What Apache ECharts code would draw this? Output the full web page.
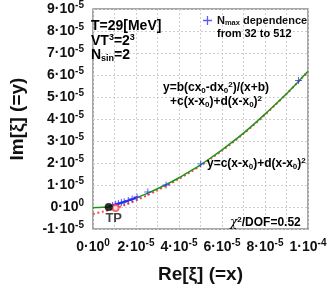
<!DOCTYPE html>
<html><head><meta charset="utf-8">
<script src="https://cdn.jsdelivr.net/npm/echarts@6/dist/echarts.min.js"></script>
<style>html,body{margin:0;padding:0;background:#fff}#c{width:336px;height:289px}</style>
</head><body><div id="c"></div>
<script>
// values in units of 1e-5
const UNIT = 1e-5;
const fitX = [0, 0.3, 0.73, 1, 1.5, 2, 2.5, 3, 3.5, 4, 4.5, 5, 5.5, 6, 6.5, 7, 7.5, 8, 8.5, 9, 9.5, 10];
const fitY = [-0.03, -0.02, 0, 0.075, 0.23, 0.41, 0.61, 0.83, 1.07, 1.33, 1.62, 1.92, 2.25, 2.60, 2.97, 3.36, 3.78, 4.22, 4.68, 5.15, 5.65, 6.17];
const quadX = [0, 0.5, 1, 1.5, 2, 2.5, 3, 3.5, 4, 4.5, 5, 5.5, 6, 6.5, 7, 7.5, 8, 8.5, 9, 9.5, 10];
const quadY = [-0.32, -0.2, -0.07, 0.1, 0.3, 0.52, 0.76, 1.01, 1.28, 1.57, 1.88, 2.21, 2.56, 2.93, 3.33, 3.75, 4.19, 4.66, 5.14, 5.64, 6.16];
const nmaxX = [0.91, 1.05, 1.18, 1.32, 1.45, 1.64, 1.82, 2.05, 2.55, 3.40, 5.01, 9.56];
const nmaxY = [0.07, 0.12, 0.16, 0.20, 0.24, 0.30, 0.36, 0.45, 0.68, 1.00, 1.96, 5.75];
const nmaxLineCount = 8;
const circX = [1.05];
const circY = [-0.05];
const tpX = [0.73];
const tpY = [0];
const yTicks = [-1, 0, 1, 2, 3, 4, 5, 6, 7, 8, 9];
const xTicks = [0, 2, 4, 6, 8, 10];

const pts = (xs, ys) => xs.map((x, i) => [x * UNIT, ys[i] * UNIT]);
const FONT = 'Liberation Sans';
const CROSS = 'path://M4.3,0H5.7V10H4.3ZM0,4.3H10V5.7H0Z';
const tickRich = {
  b: {fontFamily: FONT, fontWeight: 'bold', fontSize: 14, color: '#111', lineHeight: 18},
  s: {fontFamily: FONT, fontWeight: 'bold', fontSize: 10, color: '#111', lineHeight: 10, verticalAlign: 'top'}
};
function tickLabel(k) {
  if (k === 0) return '{b|0·10}{s|0}';
  if (k === 10) return '{b|1·10}{s|-4}';
  return '{b|' + k + '·10}{s|-5}';
}
const annRich = {
  a: {fontFamily: FONT, fontWeight: 'bold', fontSize: 14, color: '#111', lineHeight: 16},
  p: {fontFamily: FONT, fontWeight: 'bold', fontSize: 9, color: '#111', lineHeight: 9, verticalAlign: 'top'},
  d: {fontFamily: FONT, fontWeight: 'bold', fontSize: 9, color: '#111', lineHeight: 9, verticalAlign: 'bottom'},
  f: {fontFamily: FONT, fontWeight: 'bold', fontSize: 12, color: '#111', lineHeight: 14},
  fp: {fontFamily: FONT, fontWeight: 'bold', fontSize: 8, color: '#111', lineHeight: 8, verticalAlign: 'top'},
  fd: {fontFamily: FONT, fontWeight: 'bold', fontSize: 8, color: '#111', lineHeight: 8, verticalAlign: 'bottom'},
  l: {fontFamily: FONT, fontWeight: 'bold', fontSize: 11, color: '#111', lineHeight: 13},
  ld: {fontFamily: FONT, fontWeight: 'bold', fontSize: 7.5, color: '#111', lineHeight: 8, verticalAlign: 'bottom'},
  chi: {fontFamily: 'DejaVu Serif', fontStyle: 'italic', fontSize: 12, color: '#111', lineHeight: 14}
};
function ann(x, y, text) {
  return {type: 'text', x: x, y: y, z: 20, style: {text: text, rich: annRich, verticalAlign: 'middle', align: 'left'}};
}

const chart = echarts.init(document.getElementById('c'), null, {renderer: 'canvas'});
chart.setOption({
  animation: false,
  backgroundColor: '#fff',
  grid: {left: 88, top: 9, width: 220, height: 220, show: true, borderColor: '#8a8a8a', borderWidth: 1.5, backgroundColor: 'transparent'},
  xAxis: {
    type: 'value', min: 0, max: 10 * UNIT, interval: UNIT,
    axisLine: {show: false}, axisTick: {show: false},
    splitLine: {show: true, lineStyle: {type: [2, 2], color: '#cfcfcf', width: 1}},
    axisLabel: {margin: 9, rich: tickRich, formatter: v => { const k = Math.round(v / UNIT); return xTicks.indexOf(k) >= 0 ? tickLabel(k) : ''; }},
    name: 'Re[ξ] (=x)', nameLocation: 'middle', nameGap: 36,
    nameTextStyle: {fontFamily: FONT, fontWeight: 'bold', fontSize: 19, color: '#111'}
  },
  yAxis: {
    type: 'value', min: -1 * UNIT, max: 9 * UNIT, interval: UNIT,
    axisLine: {show: false}, axisTick: {show: false},
    splitLine: {show: true, lineStyle: {type: [2, 2], color: '#cfcfcf', width: 1}},
    axisLabel: {margin: 9, rich: tickRich, formatter: v => { const k = Math.round(v / UNIT); return yTicks.indexOf(k) >= 0 ? tickLabel(k) : ''; }},
    name: 'Im[ξ] (=y)', nameLocation: 'middle', nameGap: 66, nameRotate: 90,
    nameTextStyle: {fontFamily: FONT, fontWeight: 'bold', fontSize: 19, color: '#111'}
  },
  legend: {
    data: [{name: 'Nmax', icon: CROSS}], left: 203, top: 15, itemWidth: 9, itemHeight: 9,
    padding: 0, selectedMode: false,
    itemStyle: {color: '#3030ff'},
    formatter: () => '{l|N}{ld|max}{l| dependence}',
    textStyle: {rich: annRich}
  },
  series: [
    {type: 'line', name: 'quad', data: pts(quadX, quadY), showSymbol: false, smooth: 0.3, z: 2,
     lineStyle: {color: '#ff4545', width: 2, type: [2, 2.5]}},
    {type: 'line', name: 'fit', data: pts(fitX, fitY), showSymbol: false, smooth: 0.3, z: 3,
     lineStyle: {color: '#1e961e', width: 1.5}},
    {type: 'line', name: 'nmaxline', data: pts(nmaxX.slice(0, nmaxLineCount), nmaxY.slice(0, nmaxLineCount)), showSymbol: false, z: 4,
     lineStyle: {color: '#2424ff', width: 2}},
    {type: 'scatter', name: 'Nmax', data: pts(nmaxX, nmaxY), symbol: CROSS, symbolSize: 7, z: 5,
     itemStyle: {color: '#3030ff'}},
    {type: 'scatter', name: 'circ', data: pts(circX, circY), symbol: 'emptyCircle', symbolSize: 6, z: 5,
     itemStyle: {color: '#ff4545', borderColor: '#ff4545', borderWidth: 1}},
    {type: 'scatter', name: 'TP', data: pts(tpX, tpY), symbol: 'circle', symbolSize: 8, z: 6,
     itemStyle: {color: '#000'},
     label: {show: true, position: 'bottom', distance: 1, offset: [5, 0], formatter: 'TP',
             fontFamily: FONT, fontWeight: 'bold', fontSize: 13, color: '#111'}}
  ],
  graphic: [
    ann(91, 26, '{a|T=29[MeV]}'),
    ann(91, 41, '{a|VT}{p|3}{a|=2}{p|3}'),
    ann(91, 55, '{a|N}{d|sin}{a|=2}'),
    ann(217, 34, '{l|from 32 to 512}'),
    ann(163, 88, '{f|y=b(cx}{fd|0}{f|-dx}{fd|0}{fp|2}{f|)/(x+b)}'),
    ann(170, 102, '{f|+c(x-x}{fd|0}{f|)+d(x-x}{fd|0}{f|)}{fp|2}'),
    ann(207, 164, '{f|y=c(x-x}{fd|0}{f|)+d(x-x}{fd|0}{f|)}{fp|2}'),
    ann(230, 223, '{chi|χ}{fp|2}{f|/DOF=0.52}')
  ]
});
</script></body></html>
